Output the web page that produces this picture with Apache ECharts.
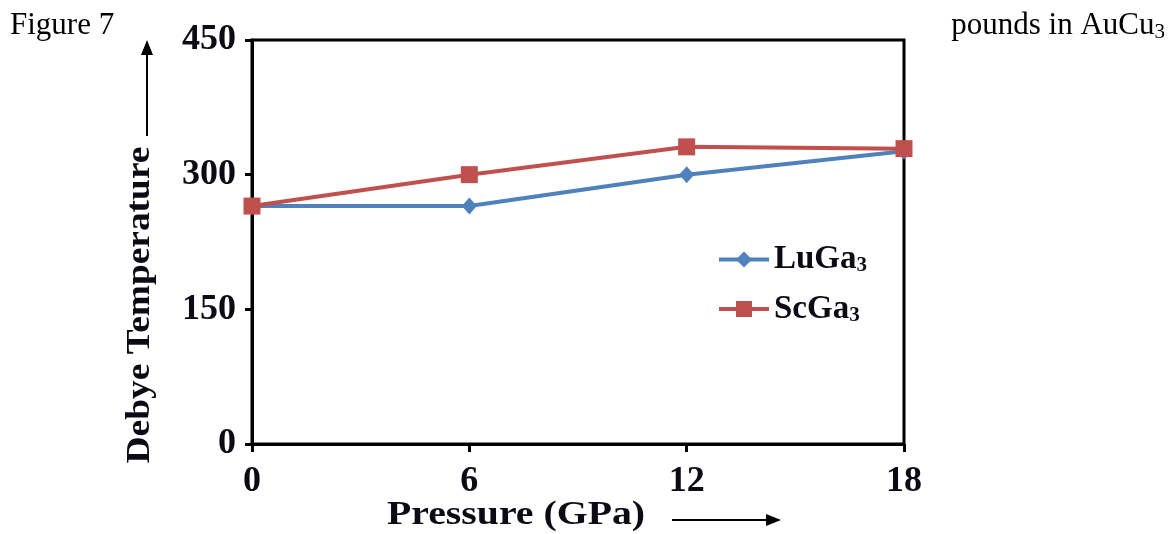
<!DOCTYPE html>
<html>
<head>
<meta charset="utf-8">
<script src="https://cdn.jsdelivr.net/npm/echarts@6/dist/echarts.min.js"></script>
<style>html,body{margin:0;padding:0;background:#fff}#c{width:1174px;height:534px}</style>
</head>
<body>
<div id="c"></div>
<script>
const pressure = [0, 6, 12, 18];
const luGa3 = [265, 265, 300, 326];
const scGa3 = [265, 300, 331, 329];
const xTicks = [0, 6, 12, 18];
const yTicks = [0, 150, 300, 450];
const seriesNames = ['LuGa3', 'ScGa3'];

const FONT = '"Liberation Serif", "Times New Roman", serif';
const INK = '#0b0b16';

const chart = echarts.init(document.getElementById('c'), null, {renderer: 'canvas'});
chart.setOption({
  animation: false,
  backgroundColor: '#fff',
  grid: {left: 252, right: 270, top: 40, bottom: 90, show: true, borderColor: '#000', borderWidth: 3, backgroundColor: 'transparent'},
  xAxis: {
    type: 'value', min: xTicks[0], max: xTicks[xTicks.length - 1], interval: 6,
    splitLine: {show: false},
    axisLine: {show: true, lineStyle: {color: '#000', width: 3}},
    axisTick: {show: true, inside: false, length: 8, lineStyle: {color: '#000', width: 3}},
    axisLabel: {margin: 20, color: INK, fontFamily: FONT, fontWeight: 'bold', fontSize: 36}
  },
  yAxis: {
    type: 'value', min: yTicks[0], max: yTicks[yTicks.length - 1], interval: 150,
    splitLine: {show: false},
    axisLine: {show: true, lineStyle: {color: '#000', width: 3}},
    axisTick: {show: true, inside: false, length: 7, lineStyle: {color: '#000', width: 3}},
    axisLabel: {margin: 16, color: INK, fontFamily: FONT, fontWeight: 'bold', fontSize: 36}
  },
  legend: {
    orient: 'vertical', left: 712, top: 238, itemWidth: 50, itemHeight: 20, itemGap: 16,
    data: seriesNames,
    lineStyle: {width: 4},
    formatter: function (n) { return '{m|' + n.slice(0, -1) + '}{s|' + n.slice(-1) + '}'; },
    textStyle: {
      color: INK, fontFamily: FONT, fontWeight: 'bold', fontSize: 33,
      rich: {
        m: {fontFamily: FONT, fontWeight: 'bold', fontSize: 33, color: INK, lineHeight: 34},
        s: {fontFamily: FONT, fontWeight: 'bold', fontSize: 21, color: INK, lineHeight: 34, verticalAlign: 'bottom', padding: [10, 0, 0, 0]}
      }
    }
  },
  series: [
    {
      name: seriesNames[0], type: 'line',
      data: pressure.map((p, i) => [p, luGa3[i]]),
      symbol: 'diamond', symbolSize: [15, 17],
      lineStyle: {color: '#4f81bd', width: 4},
      itemStyle: {color: '#4f81bd'}, z: 2
    },
    {
      name: seriesNames[1], type: 'line',
      data: pressure.map((p, i) => [p, scGa3[i]]),
      symbol: 'rect', symbolSize: 17,
      lineStyle: {color: '#c0504d', width: 4},
      itemStyle: {color: '#c0504d'}, z: 3
    }
  ],
  graphic: [
    {type: 'text', left: 10, top: 10, style: {text: 'Figure 7', font: '31px ' + FONT, fill: '#000'}},
    {type: 'text', right: 9, top: 10, style: {
      text: '{a|pounds in AuCu}{b|3}', fill: '#000',
      rich: {a: {font: '31px ' + FONT, fill: '#000', lineHeight: 34}, b: {font: '21px ' + FONT, fill: '#000', lineHeight: 34, verticalAlign: 'bottom', padding: [9, 0, 0, 0]}}
    }},
    {type: 'text', x: 140, y: 305, rotation: Math.PI / 2, scaleX: 1.1,
      style: {text: 'Debye Temperature', font: 'bold 34px ' + FONT, fill: INK, align: 'center', verticalAlign: 'middle'}},
    {type: 'text', x: 516, y: 515, scaleX: 1.17,
      style: {text: 'Pressure (GPa)', font: 'bold 34px ' + FONT, fill: INK, align: 'center', verticalAlign: 'middle'}},
    {type: 'line', shape: {x1: 147, y1: 136, x2: 147, y2: 52}, style: {stroke: '#000', lineWidth: 2}},
    {type: 'polygon', shape: {points: [[147, 40], [141, 55], [153, 55]]}, style: {fill: '#000'}},
    {type: 'line', shape: {x1: 672, y1: 520, x2: 768, y2: 520}, style: {stroke: '#000', lineWidth: 2}},
    {type: 'polygon', shape: {points: [[781, 520], [766, 514], [766, 526]]}, style: {fill: '#000'}}
  ]
});
</script>
</body>
</html>
